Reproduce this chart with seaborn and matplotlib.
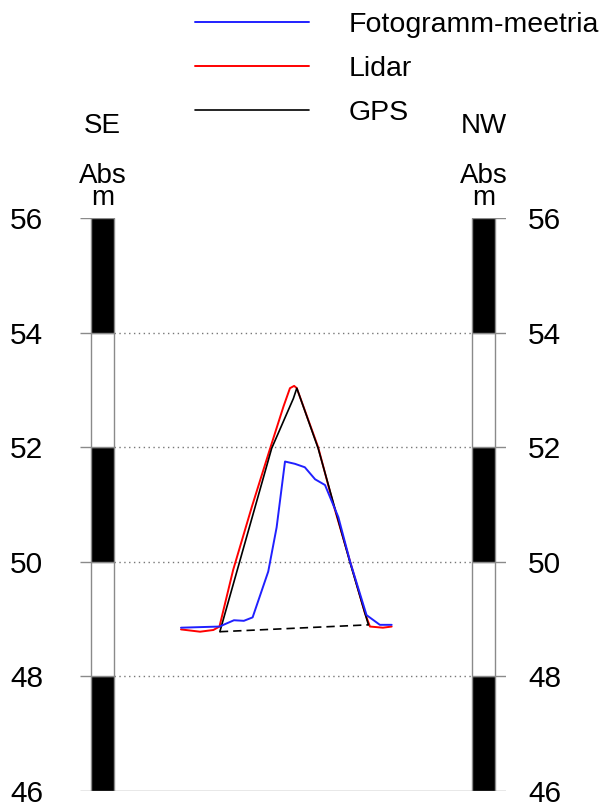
import matplotlib
matplotlib.use("Agg")
import matplotlib.pyplot as plt
import seaborn as sns
import numpy as np
import pandas as pd

sns.set_style("white")
plt.rcParams['font.family'] = ['Liberation Sans', 'DejaVu Sans']
plt.rcParams['text.color'] = 'black'
plt.rcParams['ytick.color'] = 'black'
plt.rcParams['ytick.labelcolor'] = 'black'

# ---- data ----
levels = [46, 48, 50, 52, 54, 56]
seg_bottoms = [46, 48, 50, 52, 54]
seg_colors = ['black', 'white', 'black', 'white', 'black']
bar_pos = [0, 100]          # SE and NW bar positions (profile distance)
bar_labels = ['SE', 'NW']

foto_x = [20.6, 25.6, 30.7, 34.5, 37.1, 39.4, 43.5, 45.7, 47.9, 50.5, 53.1, 55.8, 58.4, 61.9, 65.0, 69.3, 72.8, 75.9]
foto_y = [48.85, 48.86, 48.87, 48.98, 48.97, 49.03, 49.83, 50.6, 51.75, 51.71, 51.65, 51.44, 51.34, 50.78, 50.0, 49.07, 48.90, 48.90]

lidar_x = [20.6, 25.6, 29.1, 30.7, 34.3, 39.2, 44.0, 47.5, 49.2, 50.3, 51.0, 56.6, 60.6, 65.0, 68.9, 70.2, 73.6, 75.9]
lidar_y = [48.82, 48.78, 48.81, 48.87, 49.86, 50.96, 51.98, 52.71, 53.03, 53.07, 53.03, 52.0, 51.0, 50.0, 49.1, 48.87, 48.85, 48.87]

gps_x = [30.8, 44.4, 50.1, 51.0, 56.6, 65.0, 69.8]
gps_y = [48.78, 51.98, 52.85, 53.03, 51.98, 49.98, 48.90]
gps_base_x = [30.8, 69.8]
gps_base_y = [48.78, 48.90]

W, H = 603, 806
fig = plt.figure(figsize=(W / 100, H / 100), dpi=100)
ax = fig.add_axes([80 / W, 1 - 791 / H, 426 / W, 573 / H])
ax.set_xlim(-5.906, 105.906)
ax.set_ylim(46, 56)
for s in ax.spines.values():
    s.set_visible(False)

bw = 6.04
gray = '#8a8a8a'
for bp in bar_pos:
    ax.bar([bp] * len(seg_bottoms), [2] * len(seg_bottoms), bottom=seg_bottoms,
           width=bw, color=seg_colors, edgecolor=gray, linewidth=1.0, zorder=2)

xl, xr = ax.get_xlim()
for lv in levels:
    if lv == 46:
        ax.hlines(lv, xl, xr, color=gray, lw=1.0, zorder=1)
    else:
        ax.hlines(lv, xl, bar_pos[0] + bw / 2, color=gray, lw=1.0, zorder=1)
        ax.hlines(lv, bar_pos[1] - bw / 2, xr, color=gray, lw=1.0, zorder=1)
        if lv != 56:
            ax.hlines(lv, bar_pos[0] + bw / 2, bar_pos[1] - bw / 2, color='#777777',
                      lw=1.0, linestyles=(0, (1, 2.5)), zorder=1)

sns.lineplot(x=lidar_x, y=lidar_y, color='#ff0000', lw=1.4, sort=False, ax=ax,
             label='Lidar', zorder=3)
sns.lineplot(x=gps_x, y=gps_y, color='black', lw=1.2, sort=False, ax=ax,
             label='GPS', zorder=3)
sns.lineplot(x=foto_x, y=foto_y, color='#2020ff', lw=1.4, sort=False, ax=ax,
             label='Fotogramm-meetria', zorder=4)
sns.lineplot(x=gps_base_x, y=gps_base_y, color='black', lw=1.2, ax=ax,
             linestyle=(0, (5, 3)), zorder=3)

handles, labels = ax.get_legend_handles_labels()
ax.get_legend().remove()
order = [2, 0, 1]
fig.legend([handles[i] for i in order], [labels[i] for i in order], loc='upper left',
           bbox_to_anchor=(195 / W, 1 - 12 / H), frameon=False, fontsize=20.5,
           handlelength=4.0, handletextpad=1.4, labelspacing=0.64, borderpad=0,
           borderaxespad=0, labelcolor='black')

ax.set_yticks(levels)
ax.set_yticklabels([str(v) for v in levels])
ax.set_xticks([])
ax.tick_params(axis='y', length=0, pad=26.5, labelsize=21.5, labelcolor='black')
ax2 = ax.twinx()
ax2.set_ylim(46, 56)
ax2.set_yticks(levels)
ax2.set_yticklabels([str(v) for v in levels])
ax2.tick_params(axis='y', length=0, pad=16, labelsize=21.5, labelcolor='black')
for s in ax2.spines.values():
    s.set_visible(False)

for bp, lab in zip(bar_pos, bar_labels):
    xf = ax.transData.transform((bp, 46))[0]
    ax.annotate(lab, xy=(xf, H - 126), xycoords='figure pixels', ha='center',
                va='center', fontsize=20, color='black')
    ax.annotate('Abs\nm', xy=(xf, H - 187), xycoords='figure pixels', ha='center',
                va='center', fontsize=20, linespacing=0.8, color='black')

ax.set_xlabel('')
ax.set_ylabel('')
fig.savefig('out.png', dpi=100)
